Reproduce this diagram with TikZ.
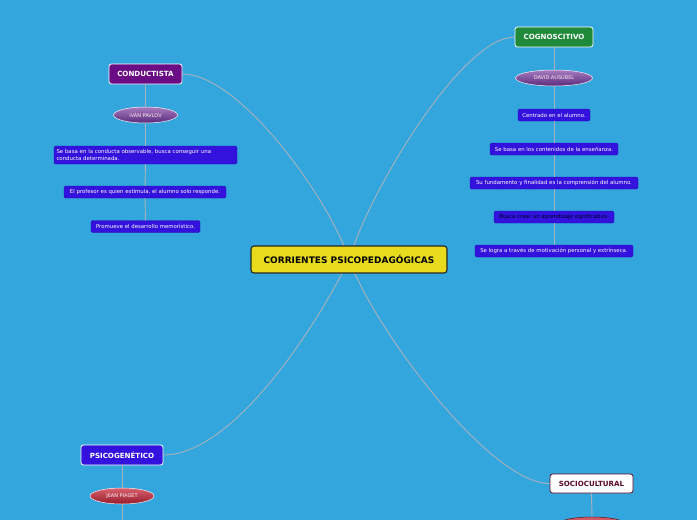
\documentclass[tikz,border=0pt]{standalone}
\usepackage{fontspec}
\setmainfont{DejaVu Sans}
\usetikzlibrary{shapes.geometric}
\definecolor{bg}{HTML}{33A6DE}
\definecolor{linegray}{HTML}{A8B2BA}
\definecolor{boxblue}{HTML}{3312DE}
\definecolor{conpurple}{HTML}{6A0C84}
\definecolor{cogreen}{HTML}{1F8A3A}
\definecolor{centyellow}{HTML}{E8DA1C}
\definecolor{maroon}{HTML}{5A0A24}
\definecolor{purtop}{HTML}{A77BC0}
\definecolor{purbot}{HTML}{5A2A7C}
\definecolor{redtop}{HTML}{D9606E}
\definecolor{redbot}{HTML}{961C2C}
\begin{document}
\begin{tikzpicture}[x=1pt,y=-1pt,
  conn/.style={draw=linegray, line width=0.9pt},
  header/.style={rounded corners=2.5pt, draw=white, line width=0.8pt, text=white,
    font=\fontsize{7.1}{8}\selectfont\bfseries, minimum height=20pt, inner sep=0pt},
  leaf/.style={rounded corners=1.5pt, fill=boxblue, draw=boxblue!80!black, line width=0.4pt,
    text=white, font=\fontsize{5.4}{6.8}\selectfont, minimum height=12pt, inner sep=0pt},
  oval/.style={ellipse, draw=white!75!pink, line width=0.5pt, minimum width=64pt,
    minimum height=16pt, inner sep=0pt, font=\fontsize{5}{6}\selectfont, text=white!80!pink},
  purpleoval/.style={oval, top color=purtop, bottom color=purbot},
  redoval/.style={oval, top color=redtop, bottom color=redbot}
]
\useasboundingbox (0,0) rectangle (697,520);
\clip (0,0) rectangle (697,520);
\fill[bg] (0,0) rectangle (697,520);

\coordinate (cc) at (349,259.5);

\node[header, fill=conpurple, minimum width=73pt] (con) at (145.5,74) {CONDUCTISTA};
\node[header, fill=cogreen, minimum width=78pt] (cog) at (554,37) {COGNOSCITIVO};
\node[header, fill=boxblue, minimum width=82pt] (psi) at (122,455) {PSICOGENÉTICO};
\node[header, fill=white, draw=maroon, text=maroon, minimum width=83pt, minimum height=19pt] (soc) at (591.5,483.5) {SOCIOCULTURAL};

% curves
\draw[conn] (con.east) .. controls (240,74) and (330,200) .. (cc);
\draw[conn] (cog.west) .. controls (462,37) and (370,190) .. (cc);
\draw[conn] (psi.east) .. controls (235,455) and (320,320) .. (cc);
\draw[conn] (soc.west) .. controls (490,483.5) and (375,330) .. (cc);

% CONDUCTISTA branch
\node[purpleoval, minimum width=64pt] (pav) at (145.5,115) {IVÁN PAVLOV};
\node[leaf, minimum width=183pt, minimum height=18pt, text width=178pt, align=left] (c1) at (145.5,155)
  {Se basa en la conducta observable, busca conseguir una\\conducta determinada.};
\node[leaf, minimum width=162pt] (c2) at (145,192) {El profesor es quien estimula, el alumno solo responde.};
\node[leaf, minimum width=109pt] (c3) at (145.5,226.5) {Promueve el desarrollo memorístico.};

% COGNOSCITIVO branch
\node[purpleoval, minimum width=77pt] (aus) at (554,78) {DAVID AUSUBEL};
\node[leaf, minimum width=72pt] (g1) at (554,115) {Centrado en el alumno.};
\node[leaf, minimum width=128pt] (g2) at (554,149) {Se basa en los contenidos de la enseñanza.};
\node[leaf, minimum width=168pt] (g3) at (554,183) {Su fundamento y finalidad es la comprensión del alumno.};
\node[leaf, minimum width=120pt, text=black!85!blue] (g4) at (554,217) {Busca crear un aprendizaje significativo.};
\node[leaf, minimum width=158pt] (g5) at (554,251) {Se logra a través de motivación personal y extrínseca.};

% PSICOGENETICO branch
\node[redoval, minimum width=64pt] (pia) at (122,496) {JEAN PIAGET};
\coordinate (pend) at (122,520);

% SOCIOCULTURAL branch
\node[redoval, minimum width=70pt, draw=redbot!60!black] (vig) at (592,525) {};

% vertical connectors
\draw[conn] (con.south) -- (pav.north);
\draw[conn] (pav.south) -- (c1.north);
\draw[conn] (c1.south) -- (c2.north);
\draw[conn] (c2.south) -- (c3.north);
\draw[conn] (cog.south) -- (aus.north);
\draw[conn] (aus.south) -- (g1.north);
\draw[conn] (g1.south) -- (g2.north);
\draw[conn] (g2.south) -- (g3.north);
\draw[conn] (g3.south) -- (g4.north);
\draw[conn] (g4.south) -- (g5.north);
\draw[conn] (psi.south) -- (pia.north);
\draw[conn] (pia.south) -- (pend);
\draw[conn] (soc.south) -- (vig.north);

% central node on top
\node[rounded corners=3pt, fill=centyellow, draw=black!85, line width=1.1pt,
  minimum width=196pt, minimum height=27pt, inner sep=0pt,
  font=\fontsize{9}{10}\selectfont\bfseries] (cen) at (cc) {CORRIENTES PSICOPEDAGÓGICAS};
\end{tikzpicture}
\end{document}
